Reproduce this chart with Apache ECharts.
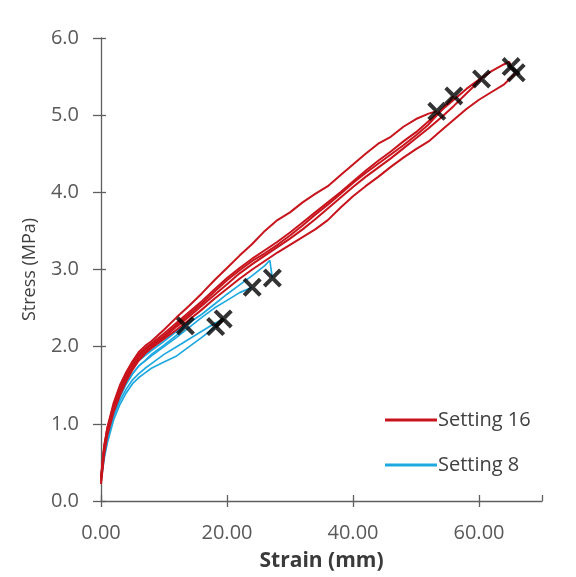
<!DOCTYPE html>
<html><head><meta charset="utf-8">
<script src="https://cdn.jsdelivr.net/npm/echarts@6/dist/echarts.min.js"></script>
<style>html,body{margin:0;padding:0;background:#fff}#c{width:576px;height:577px}</style>
</head><body><div id="c"></div>
<script>
// ---- Setting 16 specimens (strain mm, stress MPa)
var xA = [0,0.5,1,2,3,4,5,6,7,8,10,12,14,16,18,20,22,24,26,28,30,32,34,36,38,40,42,44,46,48];
var s16_1_x = xA.concat([50,52,53.3]);
var s16_1_y = [0.25,0.68,0.95,1.27,1.5,1.67,1.81,1.93,2.01,2.07,2.22,2.38,2.53,2.69,2.86,3.02,3.18,3.33,3.5,3.64,3.74,3.87,3.98,4.08,4.22,4.36,4.5,4.63,4.72,4.85,4.95,5.02,5.05];
var s16_2_x = xA.concat([50,52,54,56]);
var s16_2_y = [0.3,0.7,0.92,1.22,1.44,1.61,1.76,1.88,1.96,2.02,2.14,2.28,2.42,2.56,2.71,2.86,2.99,3.11,3.21,3.32,3.44,3.57,3.71,3.84,3.98,4.12,4.25,4.37,4.49,4.61,4.74,4.88,5.06,5.25];
var s16_3_x = xA.concat([50,52,54,56,58,60.4]);
var s16_3_y = [0.28,0.66,0.9,1.2,1.41,1.58,1.73,1.85,1.93,2.0,2.12,2.26,2.39,2.53,2.67,2.81,2.95,3.07,3.18,3.29,3.4,3.52,3.65,3.79,3.93,4.07,4.2,4.32,4.44,4.57,4.7,4.83,4.97,5.12,5.28,5.47];
var s16_4_x = xA.concat([50,52,54,56,58,60,62,64,64.8,65.1]);
var s16_4_y = [0.3,0.72,0.94,1.24,1.46,1.63,1.78,1.9,1.98,2.04,2.17,2.31,2.45,2.59,2.74,2.89,3.02,3.14,3.25,3.36,3.48,3.61,3.74,3.87,4.0,4.14,4.28,4.41,4.53,4.66,4.78,4.92,5.06,5.2,5.34,5.46,5.57,5.66,5.69,5.63];
var s16_5_x = xA.concat([50,52,54,56,58,60,62,64,65.9]);
var s16_5_y = [0.22,0.6,0.85,1.15,1.37,1.55,1.7,1.82,1.91,1.98,2.1,2.22,2.35,2.48,2.62,2.75,2.88,3.0,3.11,3.22,3.32,3.42,3.52,3.64,3.8,3.95,4.08,4.2,4.33,4.45,4.56,4.66,4.8,4.94,5.08,5.2,5.3,5.4,5.55];

// ---- Setting 8 specimens
var s8_1_x = [0,0.5,1,2,3,4,5,6,7,8,10,12,13.4];
var s8_1_y = [0.3,0.62,0.85,1.12,1.35,1.52,1.65,1.75,1.82,1.9,2.02,2.15,2.27];
var s8_2_x = [0,0.5,1,2,3,4,5,6,7,8,10,12,14,16,18.2];
var s8_2_y = [0.25,0.55,0.75,1.05,1.25,1.4,1.52,1.6,1.66,1.72,1.8,1.88,2.0,2.12,2.26];
var s8_3_x = [0,0.5,1,2,3,4,5,6,7,8,10,12,14,16,18,19.4];
var s8_3_y = [0.28,0.58,0.8,1.1,1.3,1.45,1.57,1.65,1.72,1.78,1.9,2.0,2.1,2.2,2.3,2.36];
var s8_4_x = [0,0.5,1,2,3,4,5,6,8,10,12,14,16,18,20,22,24];
var s8_4_y = [0.3,0.62,0.85,1.15,1.36,1.52,1.65,1.75,1.88,2.0,2.12,2.25,2.38,2.5,2.6,2.7,2.77];
var s8_5_x = [0,0.5,1,2,3,4,5,6,8,10,12,14,16,18,20,22,24,26,26.8,27,27.2];
var s8_5_y = [0.32,0.66,0.9,1.2,1.42,1.58,1.72,1.82,1.95,2.07,2.2,2.31,2.42,2.55,2.68,2.8,2.92,3.05,3.12,3.0,2.89];

// ---- failure points (crosses)
var failStrain = [13.4,18.2,19.4,24.0,27.2,53.3,56.0,60.4,65.1,65.9];
var failStress = [2.27,2.26,2.36,2.77,2.89,5.05,5.25,5.47,5.63,5.55];

var xTicks = [0,20,40,60];
var yTicks = [0,1,2,3,4,5,6];

function pairs(xs, ys){ return xs.map(function(v,i){ return [v, ys[i]]; }); }

var RED = '#C8141C', BLUE = '#1EA8E0';
var FONT = 'Open Sans';
var series = [];
[[s16_1_x,s16_1_y],[s16_2_x,s16_2_y],[s16_3_x,s16_3_y],[s16_4_x,s16_4_y],[s16_5_x,s16_5_y]].forEach(function(p){
  series.push({name:'Setting 16', type:'line', data:pairs(p[0],p[1]), showSymbol:false, symbol:'none',
    lineStyle:{color:RED, width:2}, itemStyle:{color:RED}, z:3});
});
[[s8_1_x,s8_1_y],[s8_2_x,s8_2_y],[s8_3_x,s8_3_y],[s8_4_x,s8_4_y],[s8_5_x,s8_5_y]].forEach(function(p){
  series.push({name:'Setting 8', type:'line', data:pairs(p[0],p[1]), showSymbol:false, symbol:'none',
    lineStyle:{color:BLUE, width:1.7}, itemStyle:{color:BLUE}, z:2});
});
series.push({name:'fail', type:'scatter', data:pairs(failStrain, failStress),
  symbol:'path://M0,3 L3,0 L10,7 L17,0 L20,3 L13,10 L20,17 L17,20 L10,13 L3,20 L0,17 L7,10 Z',
  symbolSize:19, itemStyle:{color:'#000'}, z:5, silent:true});

var axisCol = '#5f5f5f';
var chart = echarts.init(document.getElementById('c'), null, {renderer:'canvas'});
chart.setOption({
  animation:false,
  backgroundColor:'#fff',
  grid:{left:101, right:34, top:38, bottom:74, containLabel:false},
  legend:{
    data:['Setting 16','Setting 8'], orient:'vertical', left:380, top:405,
    itemWidth:52, itemHeight:3, icon:'rect', itemGap:25,
    textStyle:{fontFamily:FONT, fontSize:20, color:'#404040', padding:[0,0,0,-4]}
  },
  xAxis:[{
    type:'value', min:0, max:70, interval:20, position:'bottom',
    name:'Strain (mm)', nameLocation:'middle', nameGap:50,
    nameTextStyle:{fontFamily:FONT, fontSize:21, fontWeight:'bold', color:'#3a3a3a'},
    axisLine:{show:true, lineStyle:{color:axisCol, width:1.3}},
    axisTick:{show:true, inside:false, length:6, lineStyle:{color:axisCol, width:1.3}},
    axisLabel:{fontFamily:FONT, fontSize:20, color:'#595959', margin:22, showMaxLabel:false,
      formatter:function(v){ return xTicks.indexOf(v)>=0 ? v.toFixed(2) : ''; }},
    splitLine:{show:false}
  },{
    type:'value', min:0, max:70, interval:20, position:'bottom',
    axisLine:{show:false}, axisTick:{show:true, inside:true, length:6, lineStyle:{color:axisCol, width:1.3}},
    axisLabel:{show:false}, splitLine:{show:false}
  }],
  yAxis:[{
    type:'value', min:0, max:6, interval:1, position:'left',
    name:'Stress (MPa)', nameLocation:'middle', nameGap:62,
    nameTextStyle:{fontFamily:FONT, fontSize:18, color:'#404040'},
    axisLine:{show:true, lineStyle:{color:axisCol, width:1.3}},
    axisTick:{show:true, inside:false, length:8, lineStyle:{color:axisCol, width:1.3}},
    axisLabel:{fontFamily:FONT, fontSize:20, color:'#595959', margin:22,
      formatter:function(v){ return yTicks.indexOf(v)>=0 ? v.toFixed(1) : ''; }},
    splitLine:{show:false}
  },{
    type:'value', min:0, max:6, interval:1, position:'left',
    axisLine:{show:false}, axisTick:{show:true, inside:true, length:5, lineStyle:{color:axisCol, width:1.3}},
    axisLabel:{show:false}, splitLine:{show:false}
  }],
  series:series
});
</script>
</body></html>
